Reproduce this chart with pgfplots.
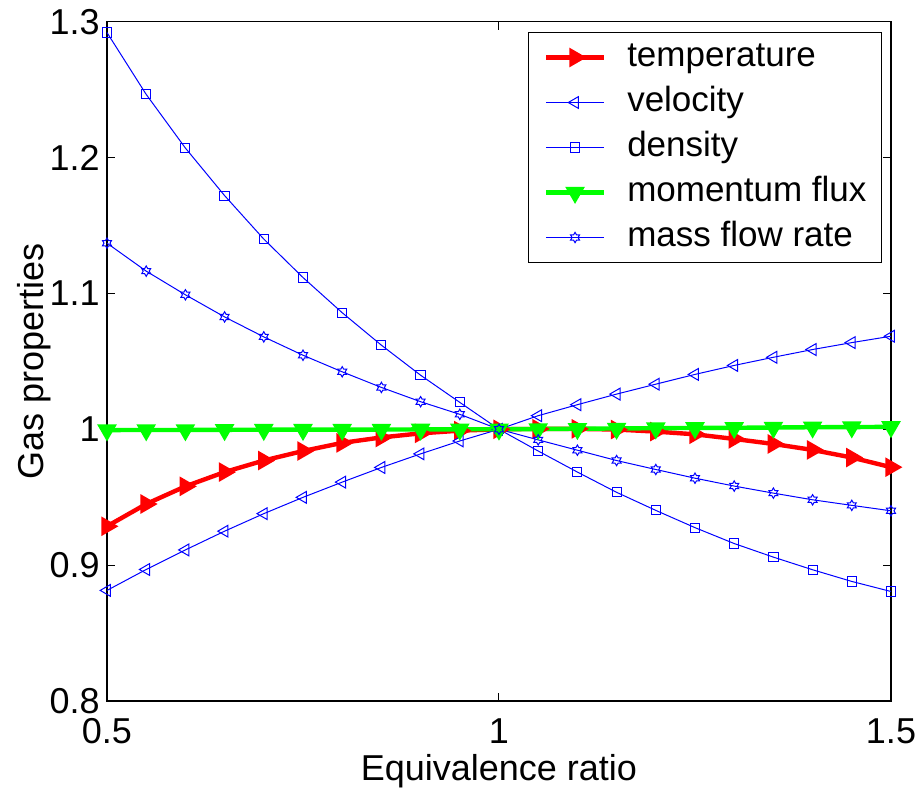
\documentclass[border=0pt]{standalone}
\usepackage{fontspec}
\setmainfont{Liberation Sans}
\usepackage{pgfplots}
\pgfplotsset{compat=1.18}
\pgfdeclareplotmark{hexstar}{%
  \pgfpathmoveto{\pgfqpointpolar{90}{\pgfplotmarksize}}%
  \pgfpathlineto{\pgfpointpolar{60}{0.577\pgfplotmarksize}}%
  \pgfpathlineto{\pgfqpointpolar{30}{\pgfplotmarksize}}%
  \pgfpathlineto{\pgfpointpolar{0}{0.577\pgfplotmarksize}}%
  \pgfpathlineto{\pgfqpointpolar{330}{\pgfplotmarksize}}%
  \pgfpathlineto{\pgfpointpolar{300}{0.577\pgfplotmarksize}}%
  \pgfpathlineto{\pgfqpointpolar{270}{\pgfplotmarksize}}%
  \pgfpathlineto{\pgfpointpolar{240}{0.577\pgfplotmarksize}}%
  \pgfpathlineto{\pgfqpointpolar{210}{\pgfplotmarksize}}%
  \pgfpathlineto{\pgfpointpolar{180}{0.577\pgfplotmarksize}}%
  \pgfpathlineto{\pgfqpointpolar{150}{\pgfplotmarksize}}%
  \pgfpathlineto{\pgfpointpolar{120}{0.577\pgfplotmarksize}}%
  \pgfpathclose
  \pgfusepathqstroke}
\definecolor{mred}{RGB}{255,0,0}
\definecolor{mgreen}{RGB}{0,255,0}
\definecolor{mblue}{RGB}{0,0,255}
\begin{document}
\begin{tikzpicture}
\useasboundingbox (-53.5pt,-43.5pt) rectangle (405pt,350.5pt);
\begin{axis}[
  scale only axis,
  width=392pt, height=339.65pt,
  xmin=0.5, xmax=1.5, ymin=0.8, ymax=1.3,
  xtick={0.5,1,1.5}, ytick={0.8,0.9,1,1.1,1.2,1.3},
  minor tick num=0,
  tick align=inside, tick pos=both,
  major tick length=4pt,
  axis line style={line width=0.7pt},
  every tick/.style={black, line width=0.5pt},
  /pgf/number format/assume math mode=true,
  tick label style={font=\fontsize{18pt}{21pt}\selectfont, inner sep=0pt},
  xticklabel style={anchor=base, yshift=-21pt},
  yticklabel style={anchor=east, xshift=-3.5pt},
  xlabel={Equivalence ratio},
  ylabel={Gas properties},
  every axis x label/.style={at={(axis description cs:0.5,0)}, anchor=base, yshift=-39.5pt, font=\fontsize{18pt}{21pt}\selectfont},
  every axis y label/.style={at={(axis description cs:-0.0804,0.5)}, rotate=90, anchor=base, font=\fontsize{18pt}{21pt}\selectfont},
  clip=false,
  legend cell align=left,
  legend image code/.code={\draw[mark repeat=2,mark phase=2] plot coordinates {(0pt,0pt)(14.5pt,0pt)(29pt,0pt)};},
  legend style={at={(rel axis cs:1,1)}, anchor=north east, xshift=-4.5pt, yshift=-5pt,
    draw=black, line width=0.5pt, font=\fontsize{17.5pt}{21pt}\selectfont,
    inner xsep=7.5pt, inner ysep=4.5pt, row sep=6.2pt, column sep=10.5pt,
    nodes={inner sep=0pt, text height=12.6pt, text depth=3.7pt}},
]
\addplot[color=mred, line width=2.2pt, mark=triangle*, mark size=3.5pt, mark options={rotate=-90, fill=mred}] coordinates {
(0.5,0.9286)(0.55,0.945)(0.6,0.958)(0.65,0.9685)(0.7,0.977)(0.75,0.984)(0.8,0.990)(0.85,0.994)(0.9,0.997)(0.95,0.999)(1.0,1.0)
(1.05,1.0003)(1.1,1.0003)(1.15,0.9998)(1.2,0.9983)(1.25,0.9963)(1.3,0.9929)(1.35,0.9892)(1.4,0.9848)(1.45,0.9792)(1.5,0.9721)};
\addlegendentry{temperature}
\addplot[color=mblue, line width=0.5pt, mark=triangle, mark size=3.4pt, mark options={rotate=90}] coordinates {
(0.5,0.8814)(0.55,0.8968)(0.6,0.9112)(0.65,0.925)(0.7,0.9379)(0.75,0.9499)(0.8,0.9611)(0.85,0.9719)(0.9,0.9819)(0.95,0.9914)(1.0,1.0)
(1.05,1.0100)(1.1,1.0181)(1.15,1.0259)(1.2,1.0332)(1.25,1.0404)(1.3,1.047)(1.35,1.053)(1.4,1.0587)(1.45,1.0638)(1.5,1.0685)};
\addlegendentry{velocity}
\addplot[color=mblue, line width=0.5pt, mark=square, mark size=2.3pt] coordinates {
(0.5,1.292)(0.55,1.2465)(0.6,1.207)(0.65,1.172)(0.7,1.140)(0.75,1.1117)(0.8,1.0858)(0.85,1.0619)(0.9,1.0398)(0.95,1.0198)(1.0,1.0)
(1.05,0.984)(1.1,0.9685)(1.15,0.9536)(1.2,0.9403)(1.25,0.9276)(1.3,0.9159)(1.35,0.9059)(1.4,0.8966)(1.45,0.888)(1.5,0.8806)};
\addlegendentry{density}
\addplot[color=mgreen, line width=2.2pt, mark=triangle*, mark size=3.5pt, mark options={rotate=180, fill=mgreen}] coordinates {
(0.5,0.9994)(0.55,0.9995)(0.6,0.9995)(0.65,0.9996)(0.7,0.9997)(0.75,0.9997)(0.8,0.9998)(0.85,0.9998)(0.9,0.9999)(0.95,1.0)(1.0,1.0)
(1.05,1.0002)(1.1,1.0004)(1.15,1.0006)(1.2,1.0008)(1.25,1.0010)(1.3,1.0011)(1.35,1.0013)(1.4,1.0015)(1.45,1.0016)(1.5,1.0018)};
\addlegendentry{momentum flux}
\addplot[color=mblue, line width=0.5pt, mark=hexstar, mark size=2.6pt] coordinates {
(0.5,1.137)(0.55,1.1164)(0.6,1.099)(0.65,1.0827)(0.7,1.068)(0.75,1.0545)(0.8,1.0423)(0.85,1.0308)(0.9,1.0203)(0.95,1.011)(1.0,1.0)
(1.05,0.9922)(1.1,0.9846)(1.15,0.977)(1.2,0.9704)(1.25,0.964)(1.3,0.9582)(1.35,0.953)(1.4,0.9481)(1.45,0.944)(1.5,0.940)};
\addlegendentry{mass flow rate}
\end{axis}
\end{tikzpicture}
\end{document}
